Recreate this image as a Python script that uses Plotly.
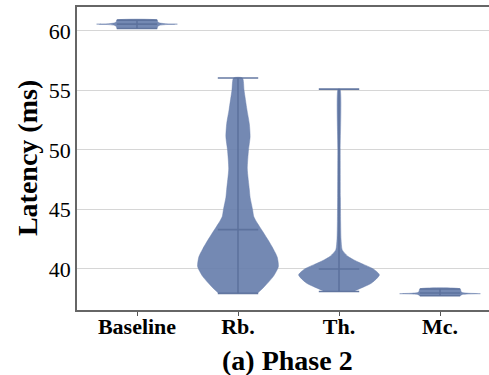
import plotly.graph_objects as go

categories = ["Baseline", "Rb.", "Th.", "Mc."]

# density profiles (latency in ms, relative width 0..1)
base_lat = [60.2, 60.35, 60.45, 60.52, 60.56, 60.6, 60.67, 60.78, 60.9]
base_den = [0.5, 0.51, 0.55, 0.7, 1.0, 0.7, 0.55, 0.51, 0.5]

rb_lat = [37.95, 38.5, 39.4, 40.2, 41.0, 41.7, 42.4, 43.1, 44.0, 44.4, 45.0,
          46.0, 46.7, 48.4, 50.0, 51.1, 52.2, 53.4, 55.0, 56.04]
rb_den = [0.48, 0.65, 0.88, 1.0, 0.97, 0.87, 0.75, 0.62, 0.45, 0.39, 0.36,
          0.3, 0.28, 0.23, 0.26, 0.3, 0.28, 0.22, 0.15, 0.11]

th_lat = [38.1, 38.2, 38.8, 39.5, 40.0, 40.36, 40.7, 41.06, 41.6, 42.5,
          44.0, 46.0, 50.0, 55.1]
th_den = [0.38, 0.42, 0.8, 1.0, 0.85, 0.62, 0.4, 0.22, 0.08, 0.05,
          0.04, 0.035, 0.03, 0.025]

mc_lat = [37.75, 37.85, 37.89, 37.92, 37.96, 38.02, 38.1, 38.32]
mc_den = [0.5, 0.55, 0.7, 1.0, 0.7, 0.55, 0.52, 0.5]

lat_min = [60.2, 37.95, 38.1, 37.75]
lat_max = [60.9, 56.04, 55.1, 38.32]
lat_mean = [60.56, 43.3, 40.0, 37.98]

profiles = [(base_lat, base_den), (rb_lat, rb_den), (th_lat, th_den), (mc_lat, mc_den)]

fill_col = "rgba(104,127,172,0.92)"
line_col = "rgba(92,113,156,0.95)"
half_w = 0.4   # violin half width (x units)
bar_w = 0.2    # half length of min/max/mean bars

fig = go.Figure()

for i, (lat, den) in enumerate(profiles):
    xs = [i + half_w * d for d in den] + [i - half_w * d for d in den[::-1]]
    ys = list(lat) + list(lat[::-1])
    fig.add_trace(go.Scatter(x=xs, y=ys, fill="toself", fillcolor=fill_col,
                             mode="lines", line=dict(color=fill_col, width=0.5, shape="spline", smoothing=0.6),
                             hoverinfo="skip", showlegend=False))
    # center line and bars
    fig.add_trace(go.Scatter(x=[i, i], y=[lat_min[i], lat_max[i]], mode="lines",
                             line=dict(color=line_col, width=1.6), showlegend=False))
    for v in (lat_min[i], lat_max[i], lat_mean[i]):
        fig.add_trace(go.Scatter(x=[i - bar_w, i + bar_w], y=[v, v], mode="lines",
                                 line=dict(color=line_col, width=1.6), showlegend=False))

fig.update_layout(
    width=489, height=375,
    margin=dict(l=77, r=0, t=7, b=65, autoexpand=False),
    plot_bgcolor="white", paper_bgcolor="white",
    font=dict(family="Liberation Serif", color="black"),
    showlegend=False,
)
fig.update_xaxes(
    range=[-0.594, 3.485], tickvals=[0, 1, 2, 3], ticktext=categories,
    tickfont=dict(size=22, weight="bold"), ticklabelstandoff=-8,
    ticks="outside", ticklen=4, tickcolor="#555", tickwidth=1,
    showgrid=False, zeroline=False, automargin=False,
    showline=True, linecolor="#666", linewidth=1.5, mirror=True,
)
fig.update_yaxes(
    range=[36.55, 62.0], tickvals=[40, 45, 50, 55, 60],
    tickfont=dict(size=22), ticks="", automargin=False,
    showgrid=True, gridcolor="#d6d6d6", gridwidth=1, zeroline=False,
    showline=True, linecolor="#666", linewidth=1.5,
)

fig.add_annotation(text="<b>(a) Phase 2</b>", xref="paper", yref="paper",
                   x=0.512, y=0, yshift=-50, xanchor="center", yanchor="middle",
                   showarrow=False, font=dict(size=28))
fig.add_annotation(text="<b>Latency (ms)</b>", xref="paper", yref="paper",
                   x=-0.12, y=0.5, textangle=-90, xanchor="center", yanchor="middle",
                   showarrow=False, font=dict(size=28))

fig.write_html("out.html", config={"displayModeBar": False},
               post_script="document.body.style.margin='0';")
